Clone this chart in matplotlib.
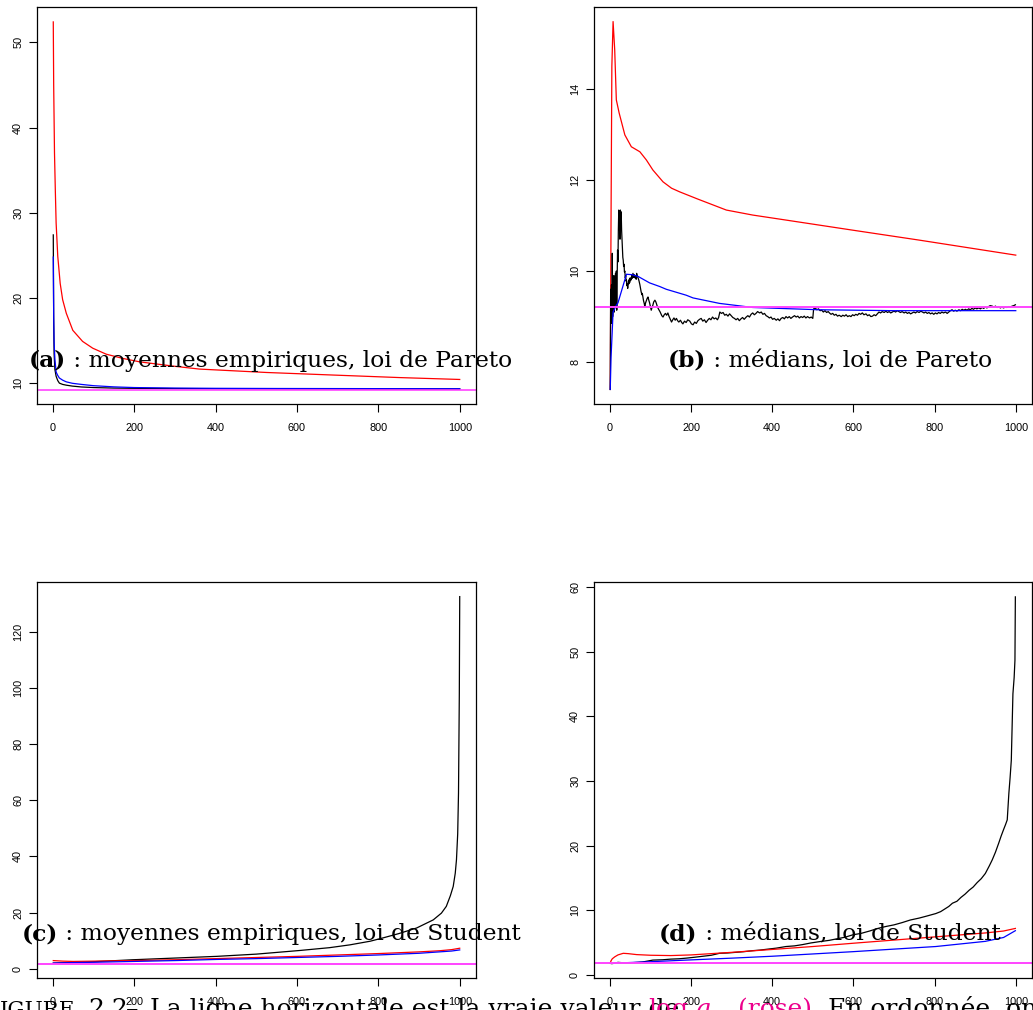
import matplotlib
matplotlib.use('Agg')
import matplotlib.pyplot as plt
from matplotlib.text import Annotation

plt.rcParams['font.family'] = ['Liberation Sans', 'DejaVu Sans']
plt.rcParams['mathtext.fontset'] = 'dejavuserif'

# ---- data ----
x_ticks = [0, 200, 400, 600, 800, 1000]

# (a) moyennes empiriques, loi de Pareto
xa_red = [1, 2, 4, 6, 8, 12, 18, 24, 33, 49, 73, 98, 131, 172, 213, 295, 360, 525, 688, 853, 1000]
ya_red = [52.4, 45.0, 37.0, 32.7, 28.8, 24.9, 21.7, 19.8, 18.2, 16.2, 14.9, 14.1, 13.4, 12.9, 12.5,
          12.0, 11.65, 11.25, 10.95, 10.65, 10.43]
xa_curves = [1, 2, 3, 5, 8, 12, 16, 24, 33, 48, 70, 100, 150, 200, 300, 400, 550, 700, 850, 1000]
ya_black = [27.4, 17.5, 13.5, 11.6, 10.8, 10.3, 10.0, 9.85, 9.76, 9.65, 9.55, 9.48, 9.42, 9.39,
            9.36, 9.35, 9.34, 9.33, 9.32, 9.32]
ya_blue = [24.8, 18.0, 14.8, 12.8, 11.3, 10.9, 10.6, 10.35, 10.15, 9.98, 9.85, 9.7, 9.56, 9.48,
           9.42, 9.39, 9.37, 9.36, 9.35, 9.34]
true_a = 9.21

# (b) medians, loi de Pareto
xb_red = [1, 3, 5, 8, 12, 16, 23, 37, 53, 74, 90, 106, 131, 152, 172, 217, 287, 352, 434, 597, 762, 1000]
yb_red = [7.4, 11.2, 14.5, 15.48, 14.86, 13.76, 13.47, 12.99, 12.73, 12.62, 12.44, 12.22, 11.96,
          11.82, 11.74, 11.58, 11.34, 11.23, 11.12, 10.9, 10.68, 10.35]
xb_blue = [1, 3, 8, 16, 20, 30, 41, 55, 70, 98, 123, 139, 188, 205, 270, 352, 516, 700, 1000]
yb_blue = [7.4, 8.1, 9.1, 9.25, 9.3, 9.6, 9.93, 9.92, 9.88, 9.74, 9.66, 9.6, 9.47, 9.41, 9.29,
           9.2, 9.15, 9.13, 9.13]
xb_black = [1, 2, 3, 4, 5, 6, 7, 8, 9, 10, 11, 12, 13, 14, 15, 16, 17, 18, 19, 20, 21, 22, 23, 24,
            25, 26, 27, 28, 29, 30, 31, 32, 33, 34, 35, 36, 37, 38, 39, 40, 41, 42, 43, 44, 45, 46,
            47, 48, 49, 50, 52, 54, 55, 57, 59, 60, 62, 63, 65, 66, 68, 70, 72, 74, 76, 77, 79, 80,
            82, 83, 85, 86, 88, 90, 92, 94, 96, 98, 100, 102, 104, 106, 108, 111, 113, 115, 117,
            119, 124, 128, 131, 134, 137, 140, 143, 146, 149, 152, 155, 158, 161, 164, 167, 170,
            174, 177, 180, 184, 188, 192, 197, 201, 205, 209, 213, 217, 221, 225, 229, 233, 237,
            241, 245, 249, 253, 257, 261, 265, 268, 271, 275, 279, 283, 287, 291, 295, 299, 303,
            307, 311, 315, 319, 323, 327, 331, 336, 340, 344, 348, 352, 356, 360, 364, 369, 373,
            377, 381, 385, 389, 393, 397, 401, 405, 410, 414, 418, 422, 426, 430, 434, 438, 442,
            446, 450, 455, 459, 463, 467, 471, 475, 479, 483, 487, 492, 496, 500, 502, 506, 510,
            514, 518, 522, 526, 530, 534, 538, 541, 545, 549, 553, 557, 561, 565, 570, 574, 578,
            582, 586, 590, 594, 598, 602, 606, 610, 614, 618, 622, 626, 631, 635, 639, 643, 647,
            651, 655, 659, 663, 667, 671, 676, 680, 684, 688, 692, 696, 700, 704, 708, 712, 716,
            720, 725, 729, 733, 737, 741, 745, 749, 753, 757, 762, 766, 770, 774, 778, 782, 786,
            790, 794, 798, 802, 806, 810, 814, 818, 822, 827, 831, 835, 839, 843, 847, 851, 855,
            860, 864, 868, 872, 876, 880, 884, 888, 892, 896, 900, 904, 909, 913, 917, 921, 925,
            929, 933, 937, 942, 946, 950, 954, 958, 962, 966, 970, 974, 978, 983, 987, 991, 995, 999]
yb_black = [7.4, 9.6, 8.9, 9.7, 8.85, 10.39, 9.0, 9.6, 9.14, 9.9, 9.1, 9.5, 9.2, 9.95, 9.3, 10.0,
            9.14, 9.8, 10.46, 10.2, 10.9, 11.34, 10.9, 11.2, 10.7, 11.34, 11.1, 11.3, 10.9, 10.68,
            10.5, 10.3, 10.24, 10.1, 10.15, 9.98, 10.0, 9.85, 9.9, 9.78, 9.8, 9.68, 9.72, 9.62,
            9.7, 9.78, 9.72, 9.82, 9.75, 9.85, 9.8, 9.9, 9.84, 9.95, 9.86, 9.92, 9.85, 9.9, 9.82,
            9.95, 9.88, 9.84, 9.78, 9.7, 9.6, 9.55, 9.48, 9.51, 9.4, 9.35, 9.28, 9.22, 9.3, 9.35,
            9.4, 9.43, 9.36, 9.3, 9.22, 9.14, 9.2, 9.25, 9.32, 9.36, 9.33, 9.28, 9.22, 9.18, 9.1,
            9.02, 8.99, 9.04, 9.07, 9.03, 9.08, 9.0, 8.94, 8.88, 8.93, 8.97, 8.92, 8.96, 8.91,
            8.88, 8.92, 8.87, 8.84, 8.9, 8.87, 8.93, 8.9, 8.84, 8.82, 8.88, 8.85, 8.91, 8.94, 8.96,
            8.9, 8.93, 8.87, 8.92, 8.96, 8.93, 8.99, 8.95, 8.97, 8.93, 8.98, 9.1, 9.07, 9.09, 9.03,
            9.05, 9.01, 9.06, 9.02, 8.98, 8.96, 8.93, 8.96, 8.91, 8.95, 8.98, 8.94, 8.99, 9.02,
            8.99, 9.05, 9.08, 9.04, 9.07, 9.11, 9.08, 9.1, 9.05, 9.07, 9.02, 9.0, 8.97, 8.99, 8.94,
            8.96, 8.92, 8.95, 8.91, 8.96, 8.98, 8.95, 9.0, 8.97, 9.0, 8.96, 8.99, 9.02, 8.99, 9.01,
            8.97, 9.0, 8.98, 9.01, 8.97, 9.0, 8.97, 8.99, 8.96, 9.17, 9.19, 9.15, 9.17, 9.13, 9.14,
            9.1, 9.13, 9.09, 9.11, 9.08, 9.05, 9.07, 9.03, 9.05, 9.01, 9.03, 9.0, 9.03, 9.01, 9.04,
            9.0, 9.02, 9.0, 9.04, 9.02, 9.05, 9.03, 9.07, 9.05, 9.08, 9.04, 9.06, 9.02, 9.04, 9.0,
            9.01, 9.04, 9.02, 9.06, 9.1, 9.08, 9.11, 9.09, 9.12, 9.09, 9.11, 9.08, 9.1, 9.12, 9.1,
            9.13, 9.11, 9.09, 9.11, 9.08, 9.1, 9.07, 9.09, 9.06, 9.08, 9.1, 9.08, 9.11, 9.09, 9.12,
            9.1, 9.08, 9.1, 9.07, 9.09, 9.06, 9.08, 9.05, 9.08, 9.06, 9.09, 9.07, 9.1, 9.08, 9.1,
            9.07, 9.1, 9.13, 9.15, 9.12, 9.14, 9.12, 9.15, 9.13, 9.16, 9.14, 9.16, 9.14, 9.17, 9.15,
            9.18, 9.16, 9.19, 9.17, 9.19, 9.17, 9.2, 9.18, 9.21, 9.19, 9.22, 9.24, 9.23, 9.21, 9.23,
            9.2, 9.22, 9.19, 9.21, 9.19, 9.21, 9.2, 9.22, 9.21, 9.23, 9.24, 9.26]
true_b = 9.21

# (c) moyennes empiriques, loi de Student
xc_black = [1, 50, 100, 197, 300, 402, 500, 607, 680, 730, 780, 812, 850, 894, 935, 955, 967, 977,
            984, 989, 992, 995, 997, 999, 1000]
yc_black = [2.0, 2.2, 2.5, 3.2, 3.8, 4.4, 5.2, 6.5, 7.5, 8.5, 9.8, 11.0, 12.5, 14.5, 17.4, 19.8,
            22.2, 26.0, 29.3, 34.0, 38.8, 48.0, 62.5, 98.0, 132.5]
xc_curves = [1, 25, 50, 100, 200, 300, 400, 500, 600, 700, 800, 900, 950, 980, 1000]
yc_red = [2.9, 2.7, 2.6, 2.7, 2.9, 3.2, 3.6, 4.0, 4.4, 4.9, 5.4, 6.0, 6.4, 6.8, 7.3]
yc_blue = [2.0, 2.1, 2.2, 2.3, 2.6, 2.9, 3.3, 3.6, 4.0, 4.4, 4.9, 5.5, 6.0, 6.3, 6.7]
true_c = 1.8

# (d) medians, loi de Student
xd_red = [1, 3, 6, 12, 20, 33, 45, 66, 100, 150, 200, 300, 401, 500, 598, 700, 803, 925, 970, 999]
yd_red = [1.8, 2.2, 2.5, 2.8, 3.1, 3.35, 3.3, 3.15, 3.05, 3.0, 3.1, 3.5, 3.95, 4.4, 4.9, 5.4,
          5.9, 6.5, 6.8, 7.2]
xd_blue = [1, 20, 60, 100, 188, 300, 401, 500, 598, 700, 803, 925, 970, 999]
yd_blue = [1.8, 1.85, 1.95, 2.05, 2.3, 2.6, 2.9, 3.25, 3.6, 4.0, 4.4, 5.2, 5.8, 6.85]
xd_black = [1, 5, 10, 20, 30, 40, 55, 70, 80, 106, 130, 150, 170, 188, 210, 230, 250, 270, 290,
            310, 330, 352, 370, 390, 410, 434, 455, 475, 495, 516, 540, 560, 580, 598, 620, 640,
            660, 680, 700, 720, 740, 762, 780, 803, 815, 825, 835, 844, 855, 865, 875, 885, 895,
            905, 915, 925, 935, 942, 950, 958, 964, 970, 975, 979, 983, 986, 989, 993, 996, 998, 999]
yd_black = [1.8, 1.75, 1.8, 1.95, 1.9, 1.85, 1.9, 1.95, 2.0, 2.3, 2.35, 2.45, 2.5, 2.6, 2.75, 2.9,
            3.05, 3.35, 3.4, 3.5, 3.6, 3.76, 3.85, 4.0, 4.15, 4.4, 4.5, 4.7, 4.95, 5.15, 5.35, 5.6,
            5.85, 6.2, 6.45, 6.8, 7.2, 7.5, 7.75, 8.1, 8.5, 8.8, 9.1, 9.5, 9.8, 10.2, 10.6, 11.1,
            11.4, 12.0, 12.5, 13.1, 13.6, 14.3, 14.9, 15.7, 16.9, 17.8, 19.0, 20.4, 21.5, 22.5,
            23.3, 24.0, 28.1, 30.5, 33.2, 43.5, 46.0, 48.7, 58.5]
true_d = 1.8

W, H = 1033, 1010


def box(x0, y0, x1, y1):
    # pixel box measured from the top-left corner -> figure fraction
    return [x0 / W, 1 - y1 / H, (x1 - x0) / W, (y1 - y0) / H]


def r_style(ax, ylim, yticks):
    ax.set_xlim(-39, 1040)
    ax.set_ylim(ylim)
    ax.set_xticks(x_ticks)
    ax.set_yticks(yticks)
    ax.tick_params(direction='out', length=5.5, width=0.8, labelsize=7.8)
    ax.tick_params(axis='x', pad=8)
    ax.tick_params(axis='y', labelrotation=90, pad=4.5)
    for lab in ax.get_yticklabels():
        lab.set_va('center')
    for s in ax.spines.values():
        s.set_linewidth(0.9)


fig = plt.figure(figsize=(W / 100, H / 100), dpi=100)
ax_a = fig.add_axes(box(37, 7, 476, 404))
ax_b = fig.add_axes(box(594, 7, 1032, 404))
ax_c = fig.add_axes(box(37, 582, 476, 978))
ax_d = fig.add_axes(box(594, 582, 1032, 978))

lw = 0.9
ax_a.plot(xa_red, ya_red, color='red', lw=lw)
ax_a.plot(xa_curves, ya_black, color='black', lw=lw)
ax_a.plot(xa_curves, ya_blue, color='blue', lw=lw)
ax_a.axhline(true_a, color='#ff33ff', lw=1.1)
r_style(ax_a, (7.55, 54.15), [10, 20, 30, 40, 50])

ax_b.plot(xb_red, yb_red, color='red', lw=lw)
ax_b.plot(xb_black, yb_black, color='black', lw=lw)
ax_b.plot(xb_blue, yb_blue, color='blue', lw=lw)
ax_b.axhline(true_b, color='#ff44ff', lw=1.4)
r_style(ax_b, (7.08, 15.8), [8, 10, 12, 14])

ax_c.plot(xc_black, yc_black, color='black', lw=lw)
ax_c.plot(xc_curves, yc_red, color='red', lw=lw)
ax_c.plot(xc_curves, yc_blue, color='blue', lw=lw)
ax_c.axhline(true_c, color='#ff44ff', lw=1.4)
r_style(ax_c, (-3.3, 137.7), [0, 20, 40, 60, 80, 100, 120])

ax_d.plot(xd_black, yd_black, color='black', lw=lw)
ax_d.plot(xd_red, yd_red, color='red', lw=lw)
ax_d.plot(xd_blue, yd_blue, color='blue', lw=lw)
ax_d.axhline(true_d, color='#ff44ff', lw=1.4)
r_style(ax_d, (-0.47, 60.8), [0, 10, 20, 30, 40, 50, 60])

serif = 'DejaVu Serif'
fs_lab = 16.8
fs_cap = 18


def after(prev, s, size, color='black'):
    # text placed right after another text, on the same baseline
    a = Annotation(s, xy=(1, 0), xycoords=prev, va='bottom', fontsize=size,
                   family=serif, color=color, zorder=5)
    fig.add_artist(a)
    return a


def panel_label(x, y, tag, rest):
    t = fig.text(x / W, 1 - y / H, tag, fontsize=fs_lab, fontweight='bold',
                 family=serif, va='baseline', zorder=5)
    after(t, rest, fs_lab)


panel_label(29, 367, '(a)', ' : moyennes empiriques, loi de Pareto')
panel_label(668, 367, '(b)', ' : médians, loi de Pareto')
panel_label(22, 940, '(c)', ' : moyennes empiriques, loi de Student')
panel_label(659, 940, '(d)', ' : médians, loi de Student')

# caption, cut by the bottom edge of the picture
rose = '#ec008c'
cap_y = 1 - 1016 / H
fig.text(0, cap_y, 'F', fontsize=fs_cap, family=serif, ha='right', va='baseline')
fig.text(0, cap_y, 'IGURE', fontsize=fs_cap * 0.86, family=serif, va='baseline')
fig.text(88 / W, cap_y, '2.2', fontsize=fs_cap, family=serif, va='baseline')
fig.text(126 / W, cap_y, '–', fontsize=fs_cap, family=serif, va='baseline')
fig.text(150 / W, cap_y, 'La ligne horizontale est la vraie valeur de', fontsize=fs_cap,
         family=serif, va='baseline')
fig.text(648 / W, cap_y, r'$\log\,q_{\alpha}$', fontsize=fs_cap, color=rose, va='baseline')
t_rose = fig.text(738 / W, cap_y, '(rose)', fontsize=fs_cap, family=serif, color=rose,
                  va='baseline')
after(t_rose, '. En ordonnée, on a', fs_cap)

fig.savefig('out.png', dpi=100)
